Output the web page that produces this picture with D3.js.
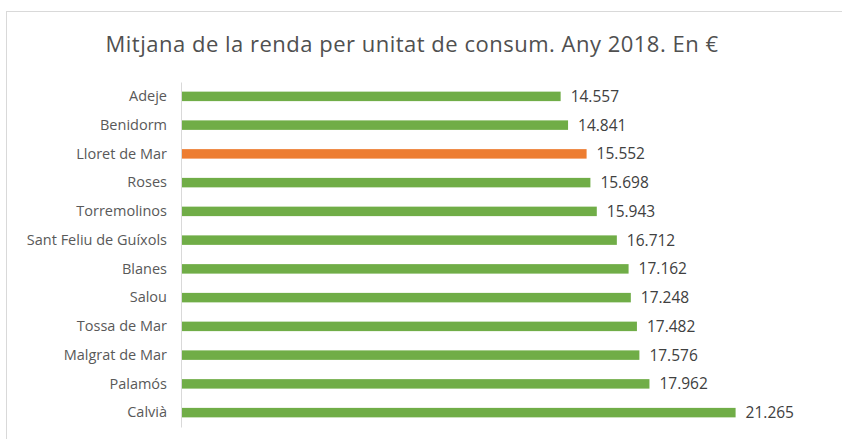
<!DOCTYPE html>
<html>
<head>
<meta charset="utf-8">
<script src="https://cdn.jsdelivr.net/npm/d3@7"></script>
<style>
  body { margin: 0; background: #fff; }
  text { font-family: "Open Sans", sans-serif; }
</style>
</head>
<body>
<div id="chart"></div>
<script>
// Chart data
const municipis = ["Adeje", "Benidorm", "Lloret de Mar", "Roses", "Torremolinos",
    "Sant Feliu de Guíxols", "Blanes", "Salou", "Tossa de Mar", "Malgrat de Mar",
    "Palamós", "Calvià"]
const renda = [14557, 14841, 15552, 15698, 15943, 16712, 17162, 17248, 17482, 17576, 17962, 21265]
const destacat = "Lloret de Mar"
const titol = "Mitjana de la renda per unitat de consum. Any 2018. En €"

const width = 842, height = 439

let svg = d3.select("#chart").append("svg")
    .attr("width", width)
    .attr("height", height)

// Chart frame
svg.append("rect")
    .attr("x", 6.5).attr("y", 11.5)
    .attr("width", 860).attr("height", 460)
    .style("fill", "none")
    .style("stroke", "#d9d9d9")

svg.append("text")
    .attr("x", 412).attr("y", 52)
    .attr("text-anchor", "middle")
    .style("font-size", "22px")
    .style("letter-spacing", "0.5px")
    .style("fill", "#505050")
    .text(titol)

// Scales
let x = d3.scaleLinear().domain([0, 25000]).range([181, 833])
let y = d3.scaleBand().domain(municipis).range([82, 427]).paddingInner(0.67).paddingOuter(0.335)

const data = municipis.map((m, i) => ({ name: m, value: renda[i] }))

// Bars
svg.append("g").selectAll("rect")
    .data(data)
    .join("rect")
    .attr("x", x(0))
    .attr("y", d => y(d.name))
    .attr("width", d => x(d.value) - x(0))
    .attr("height", y.bandwidth())
    .style("fill", d => d.name == destacat ? "#ed7d31" : "#70ad47")

// Value labels
const fmt = d3.formatLocale({ decimal: ",", thousands: ".", grouping: [3], currency: ["", "€"] }).format(",")
svg.append("g").selectAll("text")
    .data(data)
    .join("text")
    .attr("x", d => x(d.value) + 10)
    .attr("y", d => y(d.name) + y.bandwidth() / 2)
    .attr("dy", "0.35em")
    .style("font-size", "15.5px")
    .style("fill", "#404040")
    .text(d => fmt(d.value))

// Category axis
let yAxis = svg.append("g")
    .attr("transform", "translate(" + x(0) + ",0)")
    .call(d3.axisLeft(y).tickSize(0).tickPadding(14))
yAxis.select(".domain").style("stroke", "#d9d9d9")
yAxis.selectAll("text")
    .style("font-size", "14.5px")
    .style("font-family", "'Open Sans', sans-serif")
    .style("fill", "#595959")
</script>
</body>
</html>
